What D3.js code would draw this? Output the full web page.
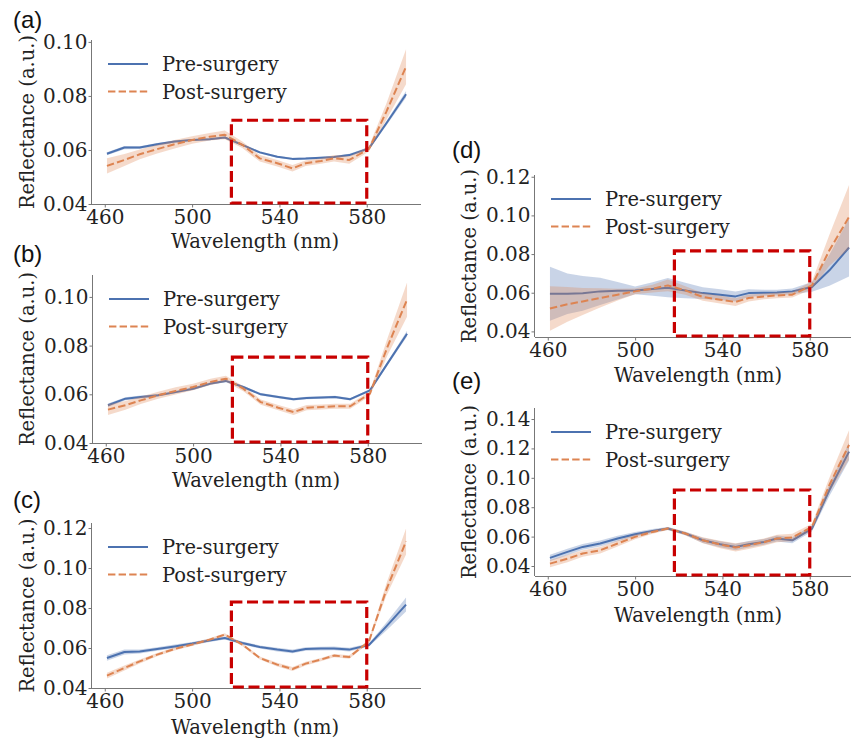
<!DOCTYPE html>
<html>
<head>
<meta charset="utf-8">
<script src="https://cdn.jsdelivr.net/npm/d3@7"></script>
<style>
  body { margin: 0; background: #fff; }
  svg { display: block; }
</style>
</head>
<body>
<svg id="fig" width="851" height="740"></svg>
<script>
// wavelengths sampled by the camera (nm)
var waves = [461, 469, 476, 484, 492, 500, 508, 515, 523, 531, 539, 546, 552, 559, 565, 572, 581, 589, 598];

// (a)
var preA = [0.0586, 0.0609, 0.0609, 0.0621, 0.0631, 0.0637, 0.0640, 0.0646, 0.0619, 0.0591, 0.0575, 0.0567, 0.0568, 0.0571, 0.0574, 0.0581, 0.0606, 0.0699, 0.0806];
var preA_sd = [0.0006, 0.0006, 0.0005, 0.0005, 0.0004, 0.0004, 0.0004, 0.0004, 0.0004, 0.0004, 0.0004, 0.0004, 0.0004, 0.0004, 0.0004, 0.0005, 0.0005, 0.0008, 0.0012];
var postA = [0.0541, 0.0563, 0.0584, 0.0603, 0.0621, 0.0637, 0.0649, 0.0656, 0.0619, 0.0569, 0.0551, 0.0532, 0.0551, 0.0559, 0.0569, 0.0563, 0.0604, 0.0742, 0.0908];
var postA_sd = [0.0028, 0.0022, 0.0018, 0.0016, 0.0016, 0.0014, 0.0014, 0.0016, 0.0012, 0.0012, 0.0012, 0.0012, 0.0010, 0.0010, 0.0012, 0.0014, 0.0010, 0.0030, 0.0065];

// (b)
var preB = [0.0555, 0.0582, 0.0589, 0.0596, 0.0609, 0.0623, 0.0644, 0.0655, 0.0630, 0.0600, 0.0589, 0.0580, 0.0585, 0.0587, 0.0589, 0.0580, 0.0616, 0.0726, 0.0849];
var preB_sd = [0.0007, 0.0006, 0.0006, 0.0005, 0.0005, 0.0005, 0.0005, 0.0005, 0.0005, 0.0005, 0.0005, 0.0005, 0.0005, 0.0005, 0.0005, 0.0005, 0.0005, 0.0008, 0.0012];
var postB = [0.0537, 0.0555, 0.0575, 0.0596, 0.0614, 0.0630, 0.0651, 0.0664, 0.0623, 0.0568, 0.0545, 0.0527, 0.0545, 0.0548, 0.0551, 0.0551, 0.0603, 0.0794, 0.0989];
var postB_sd = [0.0022, 0.0018, 0.0015, 0.0014, 0.0015, 0.0013, 0.0013, 0.0012, 0.0010, 0.0011, 0.0011, 0.0012, 0.0011, 0.0010, 0.0010, 0.0010, 0.0010, 0.0035, 0.0070];

// (c)
var preC = [0.0550, 0.0580, 0.0583, 0.0595, 0.0608, 0.0622, 0.0638, 0.0650, 0.0625, 0.0605, 0.0592, 0.0583, 0.0595, 0.0597, 0.0598, 0.0592, 0.0615, 0.0708, 0.0817];
var preC_sd = [0.0014, 0.0012, 0.0010, 0.0009, 0.0009, 0.0008, 0.0008, 0.0008, 0.0008, 0.0008, 0.0009, 0.0009, 0.0009, 0.0009, 0.0009, 0.0009, 0.0008, 0.0020, 0.0035];
var postC = [0.0462, 0.0500, 0.0533, 0.0567, 0.0595, 0.0617, 0.0642, 0.0667, 0.0617, 0.0550, 0.0517, 0.0495, 0.0522, 0.0542, 0.0562, 0.0555, 0.0633, 0.0892, 0.1133];
var postC_sd = [0.0014, 0.0012, 0.0010, 0.0008, 0.0007, 0.0007, 0.0007, 0.0007, 0.0007, 0.0008, 0.0009, 0.0010, 0.0009, 0.0008, 0.0008, 0.0009, 0.0008, 0.0030, 0.0065];

// (d)
var preD = [0.0595, 0.0595, 0.0597, 0.0607, 0.0610, 0.0612, 0.0619, 0.0626, 0.0612, 0.0598, 0.0590, 0.0581, 0.0598, 0.0600, 0.0601, 0.0607, 0.0630, 0.0716, 0.0834];
var preD_sd = [0.0140, 0.0105, 0.0090, 0.0070, 0.0045, 0.0020, 0.0035, 0.0050, 0.0040, 0.0030, 0.0028, 0.0026, 0.0020, 0.0016, 0.0015, 0.0015, 0.0025, 0.0080, 0.0150];
var postD = [0.0518, 0.0540, 0.0555, 0.0573, 0.0590, 0.0607, 0.0621, 0.0638, 0.0612, 0.0578, 0.0564, 0.0552, 0.0573, 0.0581, 0.0586, 0.0590, 0.0638, 0.0820, 0.0992];
var postD_sd = [0.0115, 0.0090, 0.0070, 0.0050, 0.0030, 0.0015, 0.0020, 0.0030, 0.0022, 0.0020, 0.0020, 0.0020, 0.0018, 0.0015, 0.0015, 0.0015, 0.0020, 0.0080, 0.0165];

// (e)
var preE = [0.0455, 0.0496, 0.0530, 0.0553, 0.0587, 0.0616, 0.0639, 0.0655, 0.0621, 0.0575, 0.0548, 0.0530, 0.0548, 0.0564, 0.0587, 0.0575, 0.0655, 0.0917, 0.1178];
var preE_sd = [0.0022, 0.0022, 0.0020, 0.0020, 0.0018, 0.0015, 0.0012, 0.0010, 0.0012, 0.0018, 0.0020, 0.0022, 0.0022, 0.0020, 0.0020, 0.0020, 0.0020, 0.0040, 0.0060];
var postE = [0.0416, 0.0450, 0.0485, 0.0507, 0.0553, 0.0598, 0.0632, 0.0655, 0.0621, 0.0575, 0.0546, 0.0526, 0.0541, 0.0562, 0.0587, 0.0594, 0.0666, 0.0951, 0.1224];
var postE_sd = [0.0025, 0.0025, 0.0022, 0.0022, 0.0020, 0.0016, 0.0012, 0.0010, 0.0012, 0.0020, 0.0025, 0.0028, 0.0025, 0.0025, 0.0025, 0.0025, 0.0022, 0.0050, 0.0100];

var xTicks = [460, 500, 540, 580];
var seriesNames = ["Pre-surgery", "Post-surgery"];
var roiRange = [518, 580];           // highlighted wavelength window
var roiTops = [0.071, 0.0753, 0.083, 0.0816, 0.0917];

var BLUE = "#4c72b0";
var ORANGE = "#dd8452";
var SERIF = "DejaVu Serif, serif";
var PLOT_W = 329;

// panel placement (pixels) and y limits
var panels = [
	{label: "(a)", pre: preA, preSd: preA_sd, post: postA, postSd: postA_sd, left: 92, top: 40, bottom: 204, ylim: [0.04, 0.1007], yTicks: [0.04, 0.06, 0.08, 0.10], lx: 13, ly: 28, xlabY: 248, ylabX: 34},
	{label: "(b)", pre: preB, preSd: preB_sd, post: postB, postSd: postB_sd, left: 93, top: 275, bottom: 443, ylim: [0.04, 0.109], yTicks: [0.04, 0.06, 0.08, 0.10], lx: 13, ly: 262, xlabY: 487, ylabX: 34},
	{label: "(c)", pre: preC, preSd: preC_sd, post: postC, postSd: postC_sd, left: 92, top: 523, bottom: 688, ylim: [0.04, 0.1225], yTicks: [0.04, 0.06, 0.08, 0.10, 0.12], lx: 13, ly: 508, xlabY: 734, ylabX: 34},
	{label: "(d)", pre: preD, preSd: preD_sd, post: postD, postSd: postD_sd, left: 535, top: 175, bottom: 337, ylim: [0.0371, 0.1209], yTicks: [0.04, 0.06, 0.08, 0.10, 0.12], lx: 452, ly: 158, xlabY: 382, ylabX: 476},
	{label: "(e)", pre: preE, preSd: preE_sd, post: postE, postSd: postE_sd, left: 535, top: 408, bottom: 576, ylim: [0.0332, 0.1475], yTicks: [0.04, 0.06, 0.08, 0.10, 0.12, 0.14], lx: 452, ly: 389, xlabY: 622, ylabX: 476}
];

var svg = d3.select("#fig");
svg.append("rect").attr("width", 851).attr("height", 740).attr("fill", "#fff");

panels.forEach(function (p, i) {
	drawPanel(p, roiTops[i]);
});

function drawPanel(p, roiTop) {
	// matplotlib-style 5% margin around the wavelength range
	var span = d3.max(waves) - d3.min(waves);
	var x = d3.scaleLinear()
		.domain([d3.min(waves) - span * 0.05, d3.max(waves) + span * 0.05])
		.range([p.left, p.left + PLOT_W]);
	var y = d3.scaleLinear().domain(p.ylim).range([p.bottom, p.top]);

	var g = svg.append("g");

	function band(mean, sd, color) {
		var area = d3.area()
			.x(function (d, k) { return x(waves[k]); })
			.y0(function (d, k) { return y(mean[k] - sd[k]); })
			.y1(function (d, k) { return y(mean[k] + sd[k]); });
		g.append("path").datum(mean)
			.attr("d", area)
			.attr("fill", color)
			.attr("fill-opacity", 0.3);
	}
	function line(mean, color, dash) {
		var ln = d3.line()
			.x(function (d, k) { return x(waves[k]); })
			.y(function (d) { return y(d); });
		g.append("path").datum(mean)
			.attr("d", ln)
			.attr("fill", "none")
			.attr("stroke", color)
			.attr("stroke-width", 2)
			.attr("stroke-dasharray", dash)
			.attr("stroke-linejoin", "round");
	}

	band(p.pre, p.preSd, BLUE);
	line(p.pre, BLUE, null);
	band(p.post, p.postSd, ORANGE);
	line(p.post, ORANGE, "7.4,3.2");

	// axes (left and bottom spines only)
	var xAxis = g.append("g")
		.attr("transform", "translate(0," + p.bottom + ")")
		.call(d3.axisBottom(x).tickValues(xTicks).tickSize(3.5).tickPadding(2).tickFormat(d3.format("d")));
	var yAxis = g.append("g")
		.attr("transform", "translate(" + p.left + ",0)")
		.call(d3.axisLeft(y).tickValues(p.yTicks).tickSize(3.5).tickPadding(1).tickFormat(d3.format(".2f")));
	[xAxis, yAxis].forEach(function (ax) {
		ax.select(".domain").attr("stroke", "#777").attr("stroke-width", 1);
		ax.selectAll(".tick line").attr("stroke", "#777");
		ax.selectAll(".tick text")
			.attr("font-family", SERIF)
			.attr("font-size", 20)
			.attr("fill", "#222");
	});
	// drop the outer tick stubs so the spines end cleanly
	xAxis.select(".domain").attr("d", "M" + p.left + ",0.5H" + (p.left + PLOT_W));
	yAxis.select(".domain").attr("d", "M-0.5," + p.top + "V" + p.bottom);

	// highlighted region
	g.append("rect")
		.attr("x", x(roiRange[0]))
		.attr("y", y(roiTop))
		.attr("width", x(roiRange[1]) - x(roiRange[0]))
		.attr("height", y(p.ylim[0]) - y(roiTop) - 1)
		.attr("fill", "none")
		.attr("stroke", "#c80000")
		.attr("stroke-width", 3.2)
		.attr("stroke-dasharray", "11,4.6");

	// legend
	var lgX = p.left + 16, lgY = p.top + 24;
	seriesNames.forEach(function (name, k) {
		var yy = lgY + k * 27.5;
		g.append("line")
			.attr("x1", lgX).attr("x2", lgX + 40)
			.attr("y1", yy).attr("y2", yy)
			.attr("stroke", k === 0 ? BLUE : ORANGE)
			.attr("stroke-width", 2)
			.attr("stroke-dasharray", k === 0 ? null : "7.4,3.2");
		g.append("text")
			.attr("x", lgX + 54).attr("y", yy + 7)
			.attr("font-family", SERIF)
			.attr("font-size", 19.5)
			.attr("fill", "#222")
			.text(name);
	});

	// axis titles
	g.append("text")
		.attr("x", p.left + 163)
		.attr("y", p.xlabY)
		.attr("text-anchor", "middle")
		.attr("font-family", SERIF)
		.attr("font-size", 19.5)
		.attr("fill", "#222")
		.text("Wavelength (nm)");
	g.append("text")
		.attr("transform", "translate(" + p.ylabX + "," + ((p.top + p.bottom) / 2) + ") rotate(-90)")
		.attr("text-anchor", "middle")
		.attr("font-family", SERIF)
		.attr("font-size", 19.5)
		.attr("fill", "#222")
		.text("Reflectance (a.u.)");

	// panel letter
	g.append("text")
		.attr("x", p.lx).attr("y", p.ly)
		.attr("font-family", "Liberation Sans, Arial, sans-serif")
		.attr("font-size", 24)
		.attr("fill", "#111")
		.text(p.label);
}
</script>
</body>
</html>
